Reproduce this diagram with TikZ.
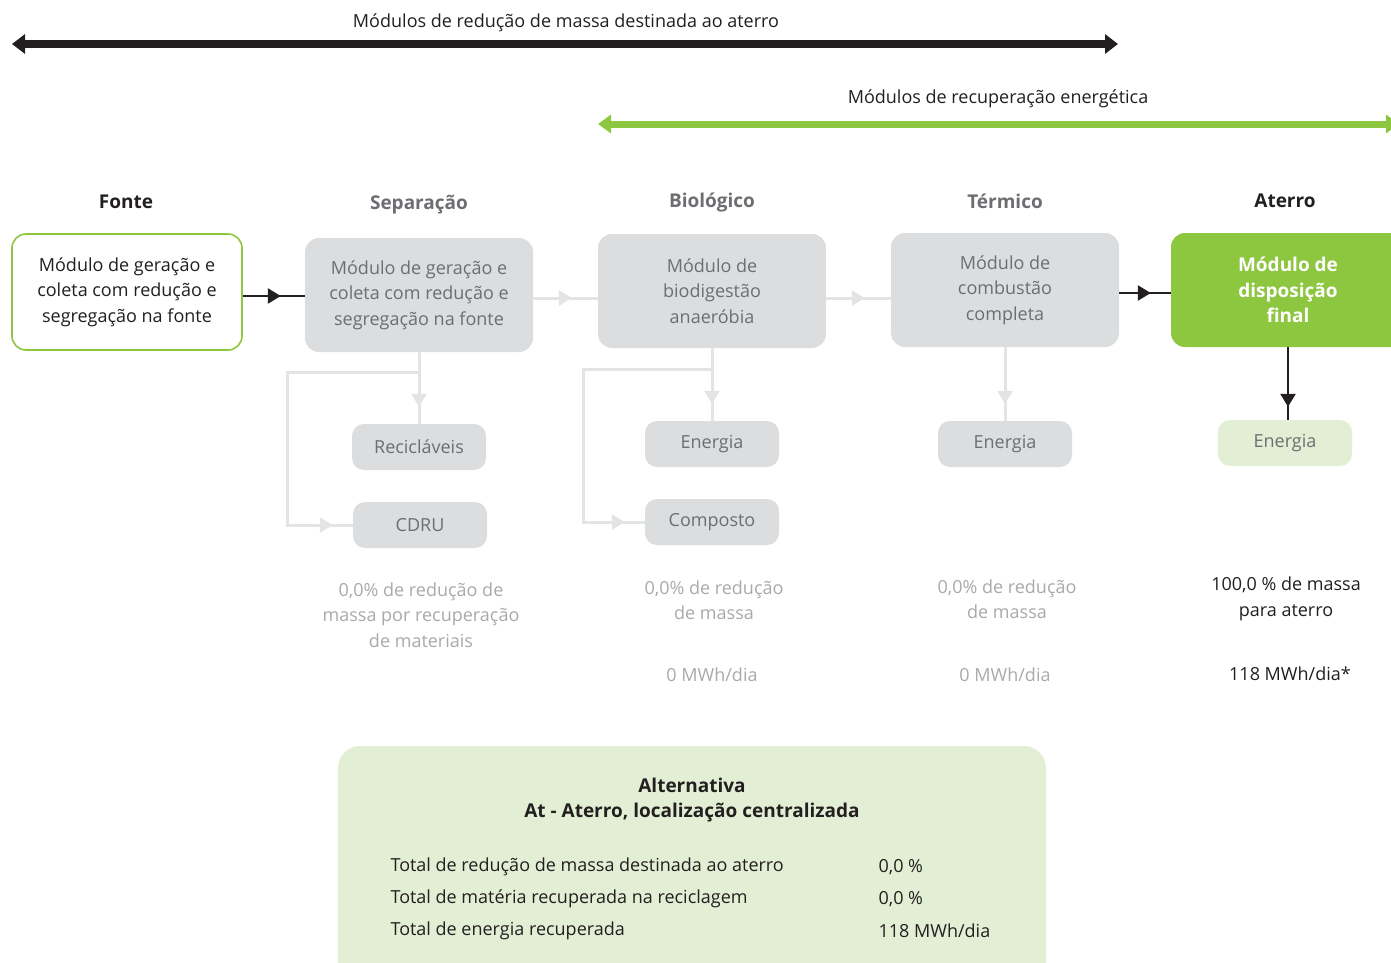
\documentclass[tikz,border=0pt]{standalone}
\usepackage{fontspec}
\setmainfont{Open Sans}
\usetikzlibrary{arrows.meta,decorations.markings}
\definecolor{ink}{HTML}{231F20}
\definecolor{lgreen}{HTML}{8DC63F}
\definecolor{pale}{HTML}{E2EFD5}
\definecolor{boxgray}{HTML}{DCDDDE}
\definecolor{linegray}{HTML}{E3E4E5}
\definecolor{txtgray}{HTML}{6D6E71}
\definecolor{statgray}{HTML}{A7A9AC}
\begin{document}
\begin{tikzpicture}[x=1pt,y=-1pt,
  body/.style={font=\fontsize{18}{25.5}\selectfont},
  head/.style={font=\fontsize{19}{22}\selectfont\bfseries},
  bigbox/.style={body,rounded corners=14pt,minimum width=228pt,minimum height=114pt,align=center,inner sep=0pt},
  graybox/.style={bigbox,fill=boxgray,text=txtgray},
  subbox/.style={body,rounded corners=12pt,minimum width=134pt,minimum height=46pt,inner sep=0pt,fill=boxgray,text=txtgray},
  midtip/.style={postaction={decorate,decoration={markings,mark=at position #1 with {\arrow{Triangle[length=13pt,width=15pt]}}}}},
  darkconn/.style={draw=ink,line width=2.5pt},
  grayconn/.style={draw=linegray,line width=3pt},
  stat/.style={body,align=center,text=statgray},
]
\useasboundingbox (0,0) rectangle (1391,962);

% top arrows
\coordinate (bl) at (12,44);
\coordinate (br) at (1118,44);
\coordinate (gl) at (598,124);
\coordinate (gr) at (1399,124);
\draw[ink,line width=8pt,{Triangle[length=13pt,width=19pt]}-{Triangle[length=13pt,width=19pt]}] (bl) -- (br);
\draw[lgreen,line width=7pt,{Triangle[length=13pt,width=18pt]}-{Triangle[length=13pt,width=18pt]}] (gl) -- (gr);
\node[body,text=ink] (lbl1) at (566,23) {Módulos de redução de massa destinada ao aterro};
\node[body,text=ink] (lbl2) at (998,99) {Módulos de recuperação energética};

% headings
\node[head,text=ink] (h1) at (126,202) {Fonte};
\node[head,text=txtgray] (h2) at (419,205) {Separação};
\node[head,text=txtgray] (h3) at (712,202) {Biológico};
\node[head,text=txtgray] (h4) at (1005,201) {Térmico};
\node[head,text=ink] (h5) at (1285,201) {Aterro};

% main boxes
\node[bigbox,draw=lgreen,line width=1.6pt,fill=white,text=ink,minimum width=230pt,minimum height=116pt] (fonte) at (127,292)
  {Módulo de geração e\\coleta com redução e\\segregação na fonte};
\node[graybox] (sep) at (419,295) {Módulo de geração e\\coleta com redução e\\segregação na fonte};
\node[graybox] (bio) at (712,291) {Módulo de\\biodigestão\\anaeróbia};
\node[graybox] (term) at (1005,290) {Módulo de\\combustão\\completa};
\node[bigbox,fill=lgreen,text=white,minimum width=234pt,font=\fontsize{19}{25.5}\selectfont\bfseries] (ater) at (1288,290) {Módulo de\\disposição\\final};

% sub boxes
\node[subbox] (recic) at (419,447) {Recicláveis};
\node[subbox] (cdru) at (420,525) {CDRU};
\node[subbox] (en1) at (712,444) {Energia};
\node[subbox] (comp) at (712,522) {Composto};
\node[subbox] (en2) at (1005,444) {Energia};
\node[subbox,fill=pale] (en3) at (1285,443) {Energia};

% main connectors
\draw[darkconn,midtip=-24pt] (fonte.east |- 0,296) -- (sep.west |- 0,296);
\draw[grayconn,midtip=-26pt] (sep.east |- 0,298) -- (bio.west |- 0,298);
\draw[grayconn,midtip=-26pt] (bio.east |- 0,298) -- (term.west |- 0,298);
\draw[darkconn,midtip=-20pt] (term.east |- 0,293) -- (ater.west |- 0,293);

% vertical connectors
\coordinate (sepb) at (419,372);
\coordinate (sepl) at (287,372);
\coordinate (biob) at (712,369);
\coordinate (biol) at (583,369);
\draw[grayconn,midtip=-17pt] (sep.south) -- (recic.north);
\draw[grayconn,midtip=-20pt] (sepb) -- (sepl) |- (cdru.west);
\draw[grayconn,midtip=-17pt] (bio.south) -- (en1.north);
\draw[grayconn,midtip=-20pt] (biob) -- (biol) |- (comp.west);
\draw[grayconn,midtip=-17pt] (term.south -| en2.north) -- (en2.north);
\draw[darkconn,midtip=-13pt] (ater.south) -- (ater.south |- en3.north);

% statistics
\node[stat] (s1) at (421,615) {0,0\% de redução de\\massa por recuperação\\de materiais};
\node[stat] (s2) at (714,600) {0,0\% de redução\\de massa};
\node[stat] (s3) at (712,675) {0 MWh/dia};
\node[stat] (s4) at (1007,599) {0,0\% de redução\\de massa};
\node[stat] (s5) at (1005,675) {0 MWh/dia};
\node[stat,text=ink] (s6) at (1286,599) {100,0 \% de massa\\para aterro};
\node[stat,text=ink] (s7) at (1290,674) {118 MWh/dia*};

% summary box
\fill[pale,rounded corners=22pt] (338,746) rectangle (1046,1000);
\node[head,align=center,text=ink,font=\fontsize{19}{25}\selectfont\bfseries] (title) at (692,800) {Alternativa\\At - Aterro, localização centralizada};
\node[body,anchor=west,text=ink] (r1) at (387,867) {Total de redução de massa destinada ao aterro};
\node[body,anchor=west,text=ink] (r2) at (387,899) {Total de matéria recuperada na reciclagem};
\node[body,anchor=west,text=ink] (r3) at (387,931) {Total de energia recuperada};
\node[body,anchor=west,text=ink] (v1) at (875,867) {0,0 \%};
\node[body,anchor=west,text=ink] (v2) at (875,899) {0,0 \%};
\node[body,anchor=west,text=ink] (v3) at (875,931) {118 MWh/dia};
\end{tikzpicture}
\end{document}
